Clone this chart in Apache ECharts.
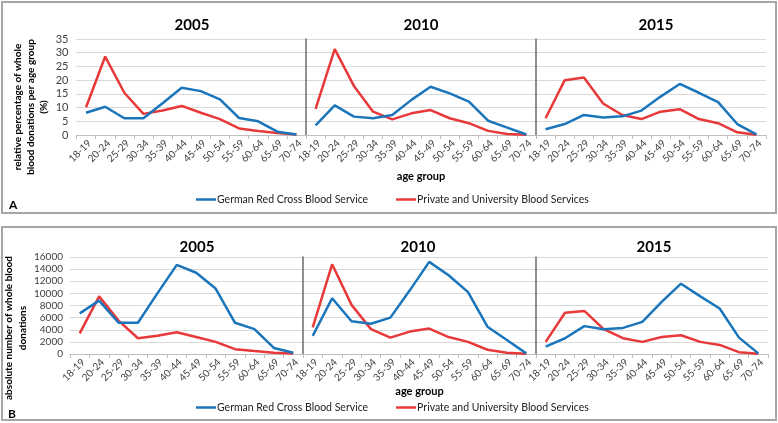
<!DOCTYPE html>
<html>
<head>
<meta charset="utf-8">
<script src="https://cdn.jsdelivr.net/npm/echarts@6/dist/echarts.min.js"></script>
<style>html,body{margin:0;padding:0;background:#fff;}#c{width:778px;height:423px;}</style>
</head>
<body>
<div id="c"></div>
<script>
const ages = ['18-19','20-24','25-29','30-34','35-39','40-44','45-49','50-54','55-59','60-64','65-69','70-74'];
const years = ['2005','2010','2015'];
const nameDrk = 'German Red Cross Blood Service';
const namePriv = 'Private and University Blood Services';
const pctTicks = [0, 35, 5];
const absTicks = [0, 16000, 2000];
const pctTitleLines = ['relative percentage of whole', 'blood donations per age group', '(%)'];
const absTitleLines = ['absolute number of whole blood', 'donations'];

const pctDrk2005 = [8.1,10.3,6.1,6.1,11.6,17.2,16.0,13.0,6.2,5.0,1.2,0.2];
const pctPriv2005 = [10.1,28.6,15.4,7.7,8.9,10.6,8.1,5.8,2.4,1.5,0.7,0.2];
const pctDrk2010 = [3.5,10.8,6.7,6.1,7.3,12.8,17.6,15.2,12.2,5.2,2.7,0.2];
const pctPriv2010 = [9.5,31.3,17.9,8.5,5.7,7.9,9.1,6.1,4.3,1.5,0.4,0.1];
const pctDrk2015 = [2.1,4.0,7.3,6.4,6.8,8.9,14.0,18.6,15.4,12.0,4.0,0.2];
const pctPriv2015 = [6.1,20.0,21.0,11.5,7.3,5.8,8.5,9.4,5.8,4.3,1.0,0.1];

const absDrk2005 = [6700,8800,5150,5150,10000,14700,13400,10800,5150,4100,1000,200];
const absPriv2005 = [3400,9500,5500,2600,3000,3600,2800,2000,800,500,200,100];
const absDrk2010 = [3000,9200,5400,5000,6000,10500,15200,13000,10200,4500,2300,100];
const absPriv2010 = [4400,14800,8100,4100,2700,3700,4200,2800,2000,700,200,50];
const absDrk2015 = [1200,2600,4600,4100,4300,5300,8600,11600,9500,7500,2700,100];
const absPriv2015 = [2000,6800,7100,4100,2600,2000,2800,3100,2000,1500,300,50];

const drkSets = [pctDrk2005, pctDrk2010, pctDrk2015, absDrk2005, absDrk2010, absDrk2015];
const privSets = [pctPriv2005, pctPriv2010, pctPriv2015, absPriv2005, absPriv2010, absPriv2015];

const FONT = 'Lato';
const BLUE = '#1b75bb';
const RED = '#e8393a';

const gridsPos = [
  {left: 76.5, top: 39, width: 229.5, height: 96},
  {left: 306, top: 39, width: 230, height: 96},
  {left: 536, top: 39, width: 230, height: 96},
  {left: 70, top: 257, width: 233, height: 97},
  {left: 303, top: 257, width: 233, height: 97},
  {left: 536, top: 257, width: 232, height: 97}
];

const grid = [], xAxis = [], yAxis = [], series = [], title = [];
const titlePos = [[187,13],[416,13],[651,13],[192,235],[413,235],[649,235]];

gridsPos.forEach((g, i) => {
  const isAbs = i >= 3;
  const ticks = isAbs ? absTicks : pctTicks;
  const first = i % 3 === 0;
  grid.push(Object.assign({containLabel: false, outerBoundsMode: 'none'}, g));
  xAxis.push({
    type: 'category', gridIndex: i, data: ages, boundaryGap: true,
    axisLine: {show: true, lineStyle: {color: '#bfbfbf', width: 1}},
    axisTick: {show: true, length: 4, lineStyle: {color: '#bfbfbf'}},
    axisLabel: {interval: 0, rotate: 45, fontSize: 10, color: '#404040', fontFamily: FONT, margin: 3, verticalAlign: 'top'},
    name: (i % 3 === 1) ? 'age group' : '',
    nameLocation: 'middle', nameGap: isAbs ? 31 : 36,
    nameTextStyle: {fontSize: 11, fontWeight: 'bold', color: '#000', fontFamily: FONT}
  });
  yAxis.push({
    type: 'value', gridIndex: i, min: ticks[0], max: ticks[1], interval: ticks[2],
    axisLine: {show: !first, lineStyle: {color: '#6a6a6a', width: 1.5}},
    axisTick: {show: false},
    axisLabel: {show: first, fontSize: isAbs ? 10 : 11, color: '#404040', fontFamily: FONT, margin: isAbs ? 7 : 8,
      formatter: v => String(v)},
    splitLine: {show: true, lineStyle: {color: '#d9d9d9', width: 1}},
    name: first ? (isAbs ? absTitleLines : pctTitleLines).join('\n') : '',
    nameLocation: 'middle', nameRotate: 90,
    nameGap: isAbs ? 34 : 26,
    nameTextStyle: {fontSize: 10, fontWeight: 'bold', color: '#000', fontFamily: FONT,
      lineHeight: isAbs ? 14 : 13, align: 'center', padding: isAbs ? [0, 45, 0, 0] : [0, 40, 0, 0]}
  });
  series.push({
    type: 'line', name: nameDrk, xAxisIndex: i, yAxisIndex: i, data: drkSets[i],
    symbol: 'none', lineStyle: {color: BLUE, width: 2.5}, itemStyle: {color: BLUE}, z: 3
  });
  series.push({
    type: 'line', name: namePriv, xAxisIndex: i, yAxisIndex: i, data: privSets[i],
    symbol: 'none', lineStyle: {color: RED, width: 2.5}, itemStyle: {color: RED}, z: 2
  });
  title.push({
    text: years[i % 3], left: titlePos[i][0], top: titlePos[i][1], textAlign: 'center',
    textStyle: {fontSize: 15, fontWeight: 'bold', color: '#000', fontFamily: FONT}
  });
});

const legendBase = {
  left: 191, itemWidth: 20, itemHeight: 2.5, itemGap: 28, icon: 'rect',
  textStyle: {fontSize: 10.5, color: '#222', fontFamily: FONT, padding: [0, 0, 0, -4]},
  data: [nameDrk, namePriv], selectedMode: false
};

const graphic = [
  {type: 'rect', shape: {x: 2, y: 2, width: 774, height: 211}, style: {fill: 'none', stroke: '#a6a6a6', lineWidth: 2}, silent: true, z: -1},
  {type: 'rect', shape: {x: 2, y: 227, width: 774, height: 193}, style: {fill: 'none', stroke: '#a6a6a6', lineWidth: 2}, silent: true, z: -1},
  {type: 'text', left: 9, top: 199, style: {text: 'A', fontSize: 12, fontWeight: 'bold', fill: '#000', fontFamily: FONT}},
  {type: 'text', left: 8, top: 408, style: {text: 'B', fontSize: 12, fontWeight: 'bold', fill: '#000', fontFamily: FONT}}
];

const option = {
  animation: false,
  backgroundColor: '#fff',
  title: title,
  grid: grid,
  xAxis: xAxis,
  yAxis: yAxis,
  series: series,
  legend: [
    Object.assign({}, legendBase, {top: 189}),
    Object.assign({}, legendBase, {top: 397})
  ],
  graphic: graphic
};

const chart = echarts.init(document.getElementById('c'));
chart.setOption(option);
</script>
</body>
</html>
